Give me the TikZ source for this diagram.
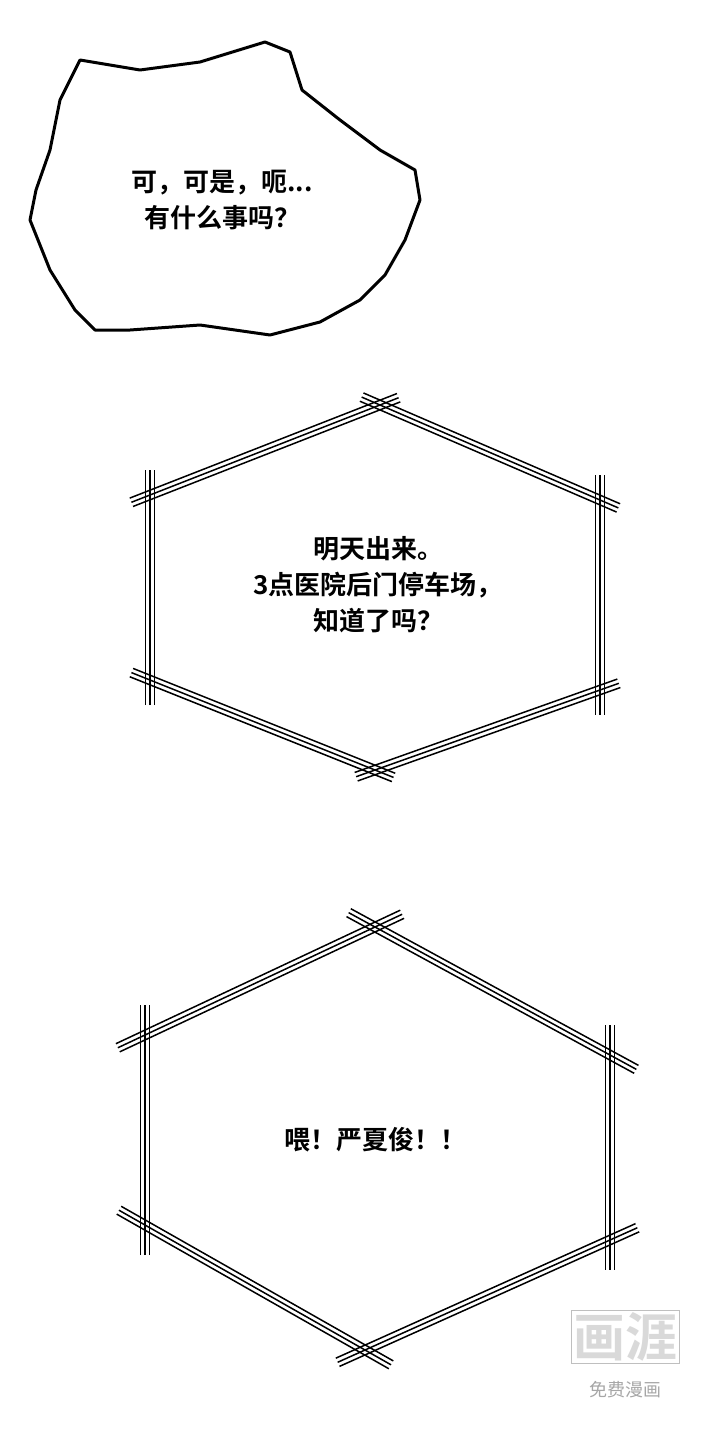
\documentclass[tikz,border=0pt]{standalone}
\usepackage{fontspec}
\newfontfamily\cjk{Noto Sans CJK SC}[BoldFont={Noto Sans CJK SC Bold}]
\usetikzlibrary{calc}
\newcommand\tredge[3]{%
  \coordinate (p) at ($(#1)!-#3pt!(#2)$);
  \coordinate (q) at ($(#2)!-#3pt!(#1)$);
  \foreach \o in {-4.5,0,4.5}{\draw[edgeline] ($(p)!\o pt!90:(q)$) -- ($(q)!\o pt!-90:(p)$);}
}
\begin{document}
\begin{tikzpicture}[x=1pt,y=-1pt,
  edgeline/.style={line width=1.5pt,black},
  txt/.style={font=\cjk\bfseries\fontsize{26}{36}\selectfont,align=center,text=black}]
\useasboundingbox[fill=white] (0,0) rectangle (720,1440);
\draw[line width=3pt,line join=round] (80,60) -- (140,70) -- (200,62) -- (265,42) -- (290,52) -- (302,90) -- (340,120) -- (380,150) -- (415,170) -- (420,200) -- (405,240) -- (385,275) -- (360,300) -- (320,322) -- (270,335) -- (200,325) -- (130,330) -- (95,330) -- (75,310) -- (50,270) -- (30,220) -- (36,190) -- (50,150) -- (60,100) -- cycle;
\node[txt] (t1) at (222,200) {可，可是，呃...\\有什么事吗？};
\coordinate (a1) at (380,405); \coordinate (a2) at (600,500); \coordinate (a3) at (600,690);
\coordinate (a4) at (375,770); \coordinate (a5) at (150,680); \coordinate (a6) at (150,495);
\tredge{a1}{a2}{20} \tredge{a2}{a3}{25} \tredge{a3}{a4}{20}
\tredge{a4}{a5}{20} \tredge{a5}{a6}{25} \tredge{a6}{a1}{20}
\node[txt] (t2) at (378,585) {明天出来。\\3点医院后门停车场，\\知道了吗？};
\coordinate (b1) at (375,927); \coordinate (b2) at (610,1055); \coordinate (b3) at (610,1240);
\coordinate (b4) at (365,1350); \coordinate (b5) at (145,1225); \coordinate (b6) at (145,1035);
\tredge{b1}{b2}{30} \tredge{b2}{b3}{30} \tredge{b3}{b4}{30}
\tredge{b4}{b5}{30} \tredge{b5}{b6}{30} \tredge{b6}{b1}{30}
\node[txt] (t3) at (375,1140) {喂！严夏俊！！};
\node[font=\cjk\bfseries\fontsize{52}{52}\selectfont,text=gray!30,draw=gray!50,line width=0.6pt,inner sep=2pt] (w1) at (625,1337) {画涯};
\node[font=\cjk\fontsize{18}{20}\selectfont,text=gray!70] (w2) at (625,1390) {免费漫画};
\end{tikzpicture}
\end{document}
